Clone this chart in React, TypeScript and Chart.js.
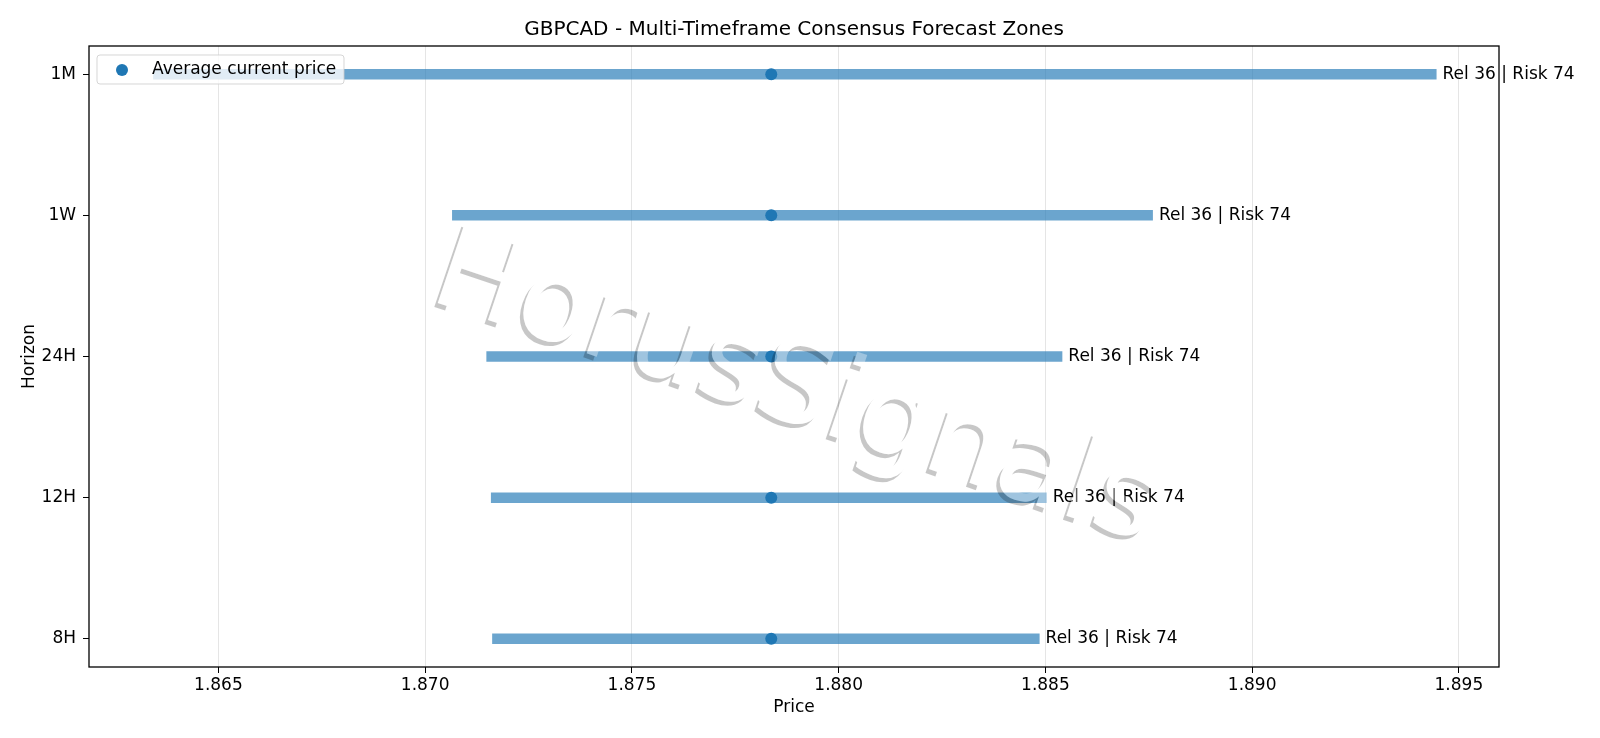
import React, { useEffect, useRef } from "react";
import { Chart, registerables } from "chart.js";
Chart.register(...registerables);

const horizons = ["8H", "12H", "24H", "1W", "1M"];
const zoneLow = [1.87162, 1.87159, 1.87148, 1.87065, 1.86342];
const zoneHigh = [1.88486, 1.88503, 1.88541, 1.8876, 1.89446];
const avgPrice = [1.87837, 1.87837, 1.87837, 1.87837, 1.87837];
const zoneLabels = ["Rel 36 | Risk 74", "Rel 36 | Risk 74", "Rel 36 | Risk 74", "Rel 36 | Risk 74", "Rel 36 | Risk 74"];
const xTicks = [1.865, 1.87, 1.875, 1.88, 1.885, 1.89, 1.895];
const xMin = 1.86187;
const xMax = 1.89597;

const TITLE = "GBPCAD - Multi-Timeframe Consensus Forecast Zones";
const WATERMARK = "HorusSignals";
const FONT = "'DejaVu Sans', sans-serif";
const BLUE = "#1f77b4";
const BAR = "rgba(31,119,180,0.66)";

const decor = {
  id: "decor",
  afterDatasetsDraw(chart: any) {
    const { ctx, chartArea, scales } = chart;
    const xs = scales.x;
    const ys = scales.y;
    ctx.save();
    ctx.font = `17px ${FONT}`;
    ctx.fillStyle = "#000";
    ctx.textAlign = "left";
    ctx.textBaseline = "middle";
    zoneHigh.forEach((h, i) => {
      ctx.fillText(zoneLabels[i], xs.getPixelForValue(h) + 6, ys.getPixelForValue(i));
    });
    ctx.strokeStyle = "#000";
    ctx.lineWidth = 1.3;
    ctx.strokeRect(chartArea.left, chartArea.top, chartArea.right - chartArea.left, chartArea.bottom - chartArea.top);
    ctx.restore();
  },
  afterDraw(chart: any) {
    const { ctx, chartArea, width, height } = chart;
    const cx = (chartArea.left + chartArea.right) / 2;
    ctx.save();
    // title
    ctx.fillStyle = "#000";
    ctx.font = `20px ${FONT}`;
    ctx.textAlign = "center";
    ctx.textBaseline = "middle";
    ctx.fillText(TITLE, cx, 30);
    // axis titles
    ctx.font = `17px ${FONT}`;
    ctx.fillText("Price", cx, 708);
    ctx.save();
    ctx.translate(30, (chartArea.top + chartArea.bottom) / 2);
    ctx.rotate(-Math.PI / 2);
    ctx.fillText("Horizon", 0, 0);
    ctx.restore();

    // watermark
    const off = document.createElement("canvas");
    off.width = width;
    off.height = height;
    const o = off.getContext("2d")!;
    o.font = `116px ${FONT}`;
    o.textAlign = "center";
    o.textBaseline = "middle";
    const wx = 795;
    const wy = 392;
    const ang = (18.7 * Math.PI) / 180;
    const drawTxt = (dx: number, dy: number) => {
      o.save();
      o.translate(wx + dx, wy + dy);
      o.rotate(ang);
      o.fillText(WATERMARK, 0, 0);
      o.restore();
    };
    o.fillStyle = "rgba(0,0,0,0.22)";
    drawTxt(-3.5, 4);
    o.globalCompositeOperation = "destination-out";
    o.fillStyle = "#000";
    drawTxt(0, 0);
    o.globalCompositeOperation = "source-over";
    o.fillStyle = "rgba(255,255,255,0.35)";
    drawTxt(0, 0);
    ctx.drawImage(off, 0, 0);

    // legend
    const lx = 97, ly = 55, lw = 247, lh = 29, r = 3;
    ctx.beginPath();
    ctx.moveTo(lx + r, ly);
    ctx.lineTo(lx + lw - r, ly);
    ctx.quadraticCurveTo(lx + lw, ly, lx + lw, ly + r);
    ctx.lineTo(lx + lw, ly + lh - r);
    ctx.quadraticCurveTo(lx + lw, ly + lh, lx + lw - r, ly + lh);
    ctx.lineTo(lx + r, ly + lh);
    ctx.quadraticCurveTo(lx, ly + lh, lx, ly + lh - r);
    ctx.lineTo(lx, ly + r);
    ctx.quadraticCurveTo(lx, ly, lx + r, ly);
    ctx.closePath();
    ctx.fillStyle = "rgba(255,255,255,0.8)";
    ctx.fill();
    ctx.strokeStyle = "rgba(204,204,204,0.8)";
    ctx.lineWidth = 1;
    ctx.stroke();
    ctx.fillStyle = BLUE;
    ctx.beginPath();
    ctx.arc(122, 70, 6, 0, Math.PI * 2);
    ctx.fill();
    ctx.fillStyle = "#000";
    ctx.font = `17px ${FONT}`;
    ctx.textAlign = "left";
    ctx.textBaseline = "middle";
    ctx.fillText("Average current price", 152, 70);
    ctx.restore();
  },
};

export default function App() {
  const ref = useRef<HTMLCanvasElement>(null);
  useEffect(() => {
    document.body.style.margin = "0";
    const datasets: any[] = [
      {
        label: "Average current price",
        data: avgPrice.map((p, i) => ({ x: p, y: i })),
        pointRadius: 6,
        pointBackgroundColor: BLUE,
        pointBorderWidth: 0,
        showLine: false,
        order: 0,
      },
    ];
    horizons.forEach((h, i) => {
      datasets.push({
        label: h,
        data: [
          { x: zoneLow[i], y: i },
          { x: zoneHigh[i], y: i },
        ],
        showLine: true,
        borderColor: BAR,
        borderWidth: 10.5,
        borderCapStyle: "butt",
        pointRadius: 0,
        order: 1,
      });
    });
    const chart = new Chart(ref.current!, {
      type: "scatter",
      data: { datasets },
      plugins: [decor],
      options: {
        animation: false,
        responsive: true,
        maintainAspectRatio: false,
        layout: { padding: { top: 46, right: 101, bottom: 0, left: 0 } },
        plugins: { legend: { display: false }, tooltip: { enabled: false }, title: { display: false } },
        scales: {
          x: {
            type: "linear",
            min: xMin,
            max: xMax,
            afterBuildTicks: (s: any) => {
              s.ticks = xTicks.map((v) => ({ value: v }));
            },
            afterFit: (s: any) => {
              s.height = 71;
            },
            ticks: {
              autoSkip: false,
              maxRotation: 0,
              padding: 2,
              color: "#000",
              font: { family: FONT, size: 17 },
              callback: (v: any) => Number(v).toFixed(3),
            },
            grid: { color: "rgba(0,0,0,0.1)", tickColor: "#000", tickLength: 6, lineWidth: 1 },
            border: { display: false },
          },
          y: {
            type: "linear",
            min: -0.2,
            max: 4.2,
            afterBuildTicks: (s: any) => {
              s.ticks = horizons.map((_, i) => ({ value: i }));
            },
            afterFit: (s: any) => {
              s.width = 89;
            },
            ticks: {
              autoSkip: false,
              padding: 7,
              color: "#000",
              font: { family: FONT, size: 17 },
              callback: (v: any) => horizons[Math.round(Number(v))],
            },
            grid: { drawOnChartArea: false, tickColor: "#000", tickLength: 6 },
            border: { display: false },
          },
        },
      } as any,
    });
    return () => chart.destroy();
  }, []);
  return (
    <div style={{ position: "fixed", left: 0, top: 0, width: 1600, height: 738, background: "#fff" }}>
      <canvas ref={ref} style={{ display: "block" }} />
    </div>
  );
}
